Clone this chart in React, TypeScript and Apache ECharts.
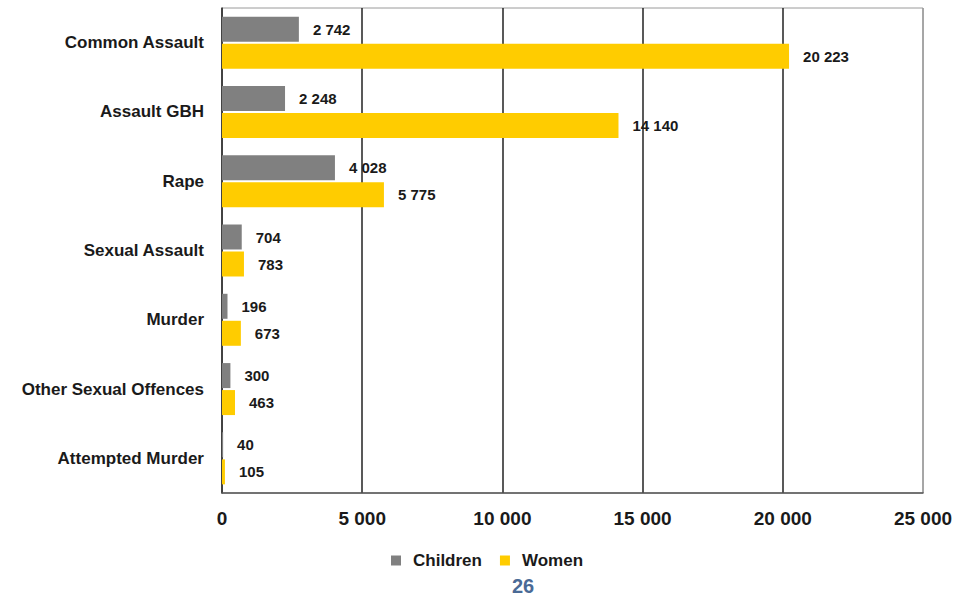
import React, { useEffect, useRef } from "react";
import * as echarts from "echarts";

const categories = [
  "Common Assault",
  "Assault GBH",
  "Rape",
  "Sexual Assault",
  "Murder",
  "Other Sexual Offences",
  "Attempted Murder",
];
const children = [2742, 2248, 4028, 704, 196, 300, 40];
const women = [20223, 14140, 5775, 783, 673, 463, 105];
const seriesNames = ["Children", "Women"];
const pageNumber = "26";

const fmt = (v: number) => String(v).replace(/\B(?=(\d{3})+(?!\d))/g, " ");
const FONT = "'Liberation Sans', Arial, sans-serif";

export default function App() {
  const ref = useRef<HTMLDivElement>(null);
  useEffect(() => {
    if (!ref.current) return;
    const chart = echarts.init(ref.current, undefined, { renderer: "svg" });
    const label = {
      show: true,
      position: "right" as const,
      distance: 14,
      fontFamily: FONT,
      fontWeight: "bold" as const,
      fontSize: 15,
      color: "#1a1a1a",
      formatter: (p: any) => fmt(p.value),
    };
    chart.setOption({
      animation: false,
      backgroundColor: "#ffffff",
      textStyle: { fontFamily: FONT },
      grid: {
        left: 222,
        right: 35,
        top: 8,
        bottom: 105,
        show: true,
        borderColor: "#9a9a9a",
        borderWidth: 1,
      },
      legend: {
        data: seriesNames,
        top: 547,
        left: 386,
        itemWidth: 10,
        itemHeight: 10,
        itemGap: 18,
        icon: "rect",
        textStyle: {
          fontFamily: FONT,
          fontWeight: "bold",
          fontSize: 17,
          color: "#1a1a1a",
          padding: [0, 0, 0, 7],
        },
      },
      xAxis: {
        type: "value",
        min: 0,
        max: 25000,
        interval: 5000,
        axisLine: { show: true, lineStyle: { color: "#555", width: 1.5 } },
        axisTick: { show: false },
        axisLabel: {
          margin: 16,
          fontFamily: FONT,
          fontWeight: "bold",
          fontSize: 19,
          color: "#1a1a1a",
          formatter: (v: number) => fmt(v),
        },
        splitLine: {
          show: true,
          lineStyle: { color: ["#555", "#222", "#222", "#222", "#222", "#9a9a9a"], width: 1.5 },
        },
      },
      yAxis: {
        type: "category",
        data: categories,
        inverse: true,
        axisLine: { show: true, lineStyle: { color: "#333", width: 1.5 } },
        axisTick: { show: false },
        axisLabel: {
          margin: 18,
          fontFamily: FONT,
          fontWeight: "bold",
          fontSize: 17,
          color: "#1a1a1a",
        },
      },
      series: [
        {
          name: seriesNames[0],
          type: "bar",
          data: children,
          barWidth: 25,
          barGap: "8%",
          itemStyle: { color: "#808080" },
          label,
        },
        {
          name: seriesNames[1],
          type: "bar",
          data: women,
          barWidth: 25,
          barGap: "8%",
          itemStyle: { color: "#FFCC00" },
          label,
        },
      ],
      graphic: [
        {
          type: "text",
          left: 512,
          top: 576,
          style: {
            text: pageNumber,
            fontFamily: FONT,
            fontWeight: "bold",
            fontSize: 20,
            fill: "#4a6a96",
          },
        },
      ],
    });
    return () => chart.dispose();
  }, []);
  return (
    <div
      ref={ref}
      style={{ position: "fixed", left: 0, top: 0, width: 958, height: 598 }}
    />
  );
}
